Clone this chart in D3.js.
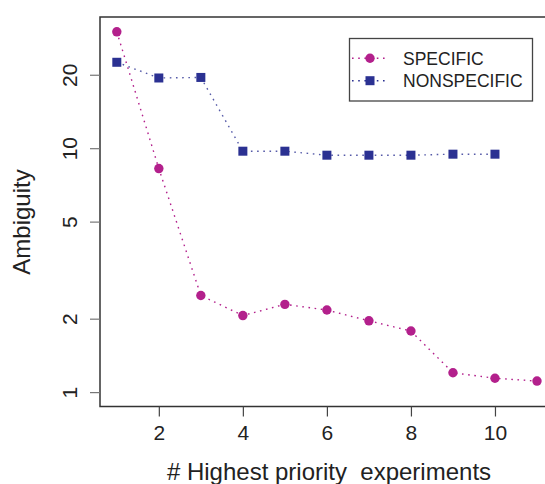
<!DOCTYPE html>
<html>
<head>
<meta charset="utf-8">
<script src="https://cdn.jsdelivr.net/npm/d3@7"></script>
<style>
  body { margin: 0; background: #fff; }
  svg { display: block; font-family: "Liberation Sans", Arial, sans-serif; }
</style>
</head>
<body>
<script>
// data
const experiments = [1, 2, 3, 4, 5, 6, 7, 8, 9, 10, 11];
const specific = [30.0, 8.25, 2.49, 2.06, 2.29, 2.17, 1.96, 1.78, 1.2, 1.14, 1.11];
const nonspecific = [22.5, 19.4, 19.5, 9.72, 9.72, 9.36, 9.36, 9.36, 9.45, 9.45];
const xTicks = [2, 4, 6, 8, 10];
const yTicks = [1, 2, 5, 10, 20];
const seriesNames = ["SPECIFIC", "NONSPECIFIC"];

const width = 545, height = 484;
const magenta = "#b3208c", navy = "#2b3192";

const svg = d3.select("body").append("svg")
    .attr("width", width)
    .attr("height", height);

const x = d3.scaleLinear().domain([0.6, 11.4]).range([100, 553.8]);
const y = d3.scaleLog().domain([0.873, 34.5]).range([406.5, 17]);

// box
svg.append("rect")
    .attr("x", x(0.6)).attr("y", y(34.5))
    .attr("width", x(11.4) - x(0.6)).attr("height", y(0.873) - y(34.5))
    .attr("fill", "none").attr("stroke", "#333").attr("stroke-width", 1.5);

// x axis
const xAxis = svg.append("g")
    .attr("transform", `translate(0,${y(0.873)})`)
    .call(d3.axisBottom(x).tickValues(xTicks).tickSize(10).tickPadding(9).tickFormat(d3.format("d")));
xAxis.select(".domain").remove();
xAxis.selectAll("line").attr("stroke", "#444").attr("stroke-width", 1.2);
xAxis.selectAll("text").attr("font-size", 21).attr("fill", "#222");

// y axis with rotated labels
const yAxis = svg.append("g")
    .attr("transform", `translate(${x(0.6)},0)`)
    .call(d3.axisLeft(y).tickValues(yTicks).tickSize(10).tickFormat(d3.format("d")));
yAxis.select(".domain").remove();
yAxis.selectAll("line").attr("stroke", "#777").attr("stroke-width", 1.2);
yAxis.selectAll("text")
    .attr("font-size", 21).attr("fill", "#222")
    .attr("x", null).attr("dy", null)
    .attr("text-anchor", "middle")
    .attr("transform", "translate(-23,0) rotate(-90)");

// axis titles
svg.append("text")
    .attr("x", 329).attr("y", 480)
    .attr("text-anchor", "middle")
    .attr("font-size", 24).attr("fill", "#222")
    .attr("xml:space", "preserve")
    .text("# Highest priority  experiments");

svg.append("text")
    .attr("transform", "translate(30,222) rotate(-90)")
    .attr("text-anchor", "middle")
    .attr("font-size", 24).attr("fill", "#222")
    .text("Ambiguity");

const line = d3.line()
    .x((d, i) => x(experiments[i]))
    .y(d => y(d));

// dotted lines
svg.append("path").datum(specific)
    .attr("d", line).attr("fill", "none")
    .attr("stroke", magenta).attr("stroke-width", 1.4)
    .attr("stroke-dasharray", "1.6,4.6");
svg.append("path").datum(nonspecific)
    .attr("d", line).attr("fill", "none")
    .attr("stroke", navy).attr("stroke-width", 1.4)
    .attr("stroke-dasharray", "1.6,4.6").attr("opacity", 0.8);

// markers
svg.selectAll(".spec").data(specific).enter().append("circle")
    .attr("class", "spec")
    .attr("cx", (d, i) => x(experiments[i]))
    .attr("cy", d => y(d))
    .attr("r", 4.7)
    .attr("fill", magenta);

svg.selectAll(".nonspec").data(nonspecific).enter().append("rect")
    .attr("class", "nonspec")
    .attr("x", (d, i) => x(experiments[i]) - 4.5)
    .attr("y", d => y(d) - 4.5)
    .attr("width", 9).attr("height", 9)
    .attr("fill", navy);

// legend
const legend = svg.append("g");
legend.append("rect")
    .attr("x", 349.5).attr("y", 38.5)
    .attr("width", 183).attr("height", 62.5)
    .attr("fill", "#fff").attr("stroke", "#444").attr("stroke-width", 1.3);

seriesNames.forEach((name, i) => {
    const cy = 58.3 + i * 22.4;
    const col = i === 0 ? magenta : navy;
    legend.append("line")
        .attr("x1", 351).attr("x2", 386).attr("y1", cy).attr("y2", cy)
        .attr("stroke", col).attr("stroke-width", 1.4)
        .attr("stroke-dasharray", "1.6,4.6").attr("stroke-dashoffset", -1);
    if (i === 0) {
        legend.append("circle").attr("cx", 370).attr("cy", cy).attr("r", 4.7).attr("fill", col);
    } else {
        legend.append("rect").attr("x", 365.5).attr("y", cy - 4.5)
            .attr("width", 9).attr("height", 9).attr("fill", col);
    }
    legend.append("text")
        .attr("x", 403).attr("y", cy + 6.3)
        .attr("font-size", 17.5).attr("fill", "#222")
        .text(name);
});
</script>
</body>
</html>
